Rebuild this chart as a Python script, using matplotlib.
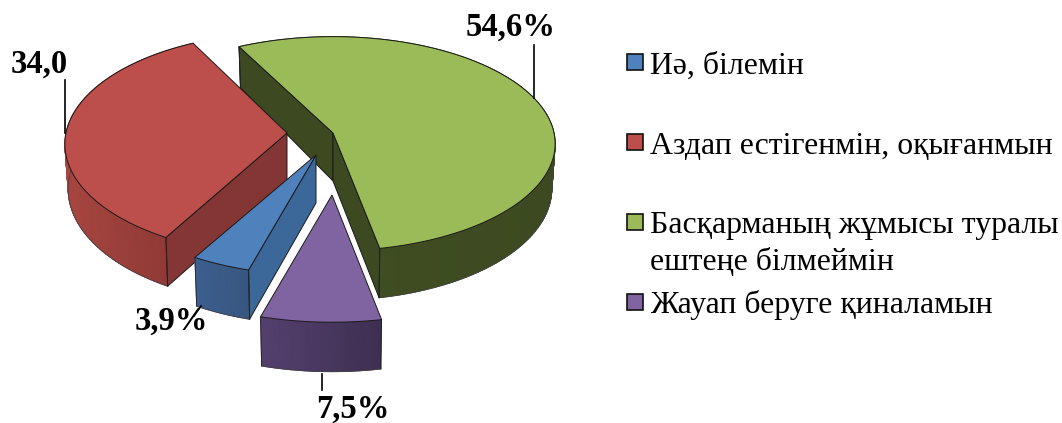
import numpy as np
import matplotlib
matplotlib.use("Agg")
import matplotlib.pyplot as plt
from matplotlib.colors import LinearSegmentedColormap
from matplotlib.patches import Polygon, Rectangle

# ---- data
categories = ["Иә, білемін", "Аздап естігенмін, оқығанмын",
              "Басқарманың жұмысы туралы\nештеңе білмеймін", "Жауап беруге қиналамын"]
values = [3.9, 34.0, 54.6, 7.5]
value_labels = ["3,9%", "34,0", "54,6%", "7,5%"]

# ---- style
FONT = ["Liberation Serif", "DejaVu Serif"]
top_colors = ["#4F81BD", "#BC4E4B", "#9BBB59", "#8064A2"]
rim_left = ["#3D5F8F", "#A84540", "#414F24", "#54406E"]
rim_right = ["#37577F", "#8A3734", "#3D4A21", "#3E2F52"]
face_colors = ["#3B6898", "#843634", "#3D4A21", "#3E2F52"]
apex = [(316, 155), (287, 133), (333, 133), (332, 195)]
xscale = [1.0, 1.0, 1.0, 1.06]
yscale = [1.02, 1.04, 1.0, 1.08]
START = 196.0
RX, RY, K, DEPTH, APEX_DEPTH, BASE_SHRINK = 221.0, 106.0, 0.1, 44.5, 48.0, 0.985


def proj(i, u, v, lower=False):
    a = apex[i]
    s = 1 / (1 - K * np.asarray(v, float))
    dx = RX * np.asarray(u) * s * xscale[i]
    dy = RY * np.asarray(v) * s * yscale[i]
    if lower:
        return a[0] + dx * BASE_SHRINK, a[1] + dy + DEPTH * s
    return a[0] + dx, a[1] + dy


fig = plt.figure(figsize=(10.62, 4.23), dpi=100)
ax = fig.add_axes([0, 0, 1, 1])
ax.set_xlim(0, 1062)
ax.set_ylim(423, 0)
ax.axis("off")

angles = START + np.concatenate([[0], np.cumsum(values)]) * 3.6
order = [2, 1, 0, 3]
EDGE = dict(edgecolor="#1a1a1a", linewidth=0.7)
z = 1
for i in order:
    a0, a1 = np.radians(angles[i]), np.radians(angles[i + 1])
    t = np.linspace(a0, a1, max(int(np.degrees(a1 - a0)), 12) + 1)
    u, v = np.sin(t), -np.cos(t)
    a = apex[i]
    xt, yt = proj(i, u, v)
    xb, yb = proj(i, u, v, True)
    # rim with horizontal shading
    cmap = LinearSegmentedColormap.from_list("rim", [rim_left[i], rim_right[i]])
    f = (xt - xt.min()) / max(xt.max() - xt.min(), 1)
    ax.pcolormesh(np.vstack([xt, xb]), np.vstack([yt, yb]), np.vstack([f, f]),
                  shading="gouraud", cmap=cmap, vmin=0, vmax=1, zorder=z)
    ax.plot(xb, yb, color="#444444", lw=0.6, zorder=z + 1)
    z += 2
    # radial cut faces: only those that the slice's own top does not hide
    tm = 0.5 * (a0 + a1)
    mx, my = np.sin(tm), -np.cos(tm)
    for uu, vv in ((u[0], v[0]), (u[-1], v[-1])):
        if np.sign(uu) == np.sign(uu * my - vv * mx):
            continue
        xo, yo = proj(i, uu, vv)
        xo2, yo2 = proj(i, uu, vv, True)
        ax.add_patch(Polygon([(a[0], a[1]), (xo, yo), (xo2, yo2), (a[0], a[1] + APEX_DEPTH)],
                             closed=True, facecolor=face_colors[i], zorder=z, **EDGE))
        z += 1
    # vertical corners of the rim
    for n in (0, -1):
        ax.plot([xt[n], xb[n]], [yt[n], yb[n]], color="#222222", lw=0.6, zorder=z)
    z += 1
    # top surface
    ax.add_patch(Polygon(np.column_stack([np.r_[a[0], xt], np.r_[a[1], yt]]), closed=True,
                         facecolor=top_colors[i], zorder=z, **EDGE))
    z += 1

# ---- value labels and leaders
label_pos = [(171.5, 330), (39, 73), (510.5, 36), (353, 418)]
leaders = [((201, 306), (194, 316)), ((65, 80), (65, 133)), ((534, 45), (534, 98)), ((322, 374), (322, 390))]
for txt, (x, y), (p, q) in zip(value_labels, label_pos, leaders):
    ax.text(x, y, txt, family=FONT, weight="bold", fontsize=23.5, ha="center", va="baseline",
            color="black", zorder=z + 1)
    ax.plot([p[0], q[0]], [p[1], q[1]], color="black", lw=1.2, zorder=z)

# ---- legend
legend_y = [62.5, 142.5, 222.5, 302.5]
for name, col, y in zip(categories, top_colors, legend_y):
    ax.add_patch(Rectangle((626.5, y - 8), 16, 16, facecolor=col, edgecolor="#111111", linewidth=1.2, zorder=z))
    for k, line in enumerate(name.split("\n")):
        ax.text(650, y + 11 + k * 37, line, family=FONT, fontsize=22.9, ha="left", va="baseline", color="black")

fig.savefig("out.png", dpi=100, facecolor="white")
